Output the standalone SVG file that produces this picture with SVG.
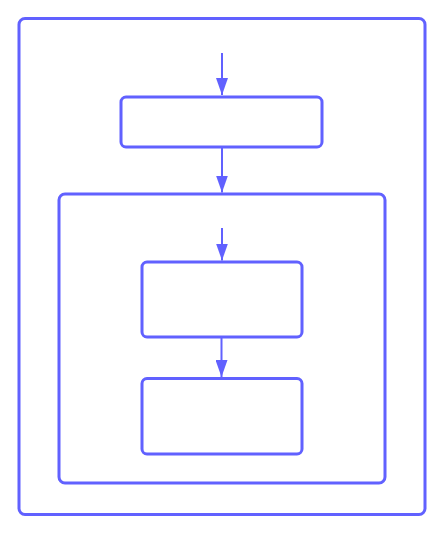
<svg xmlns="http://www.w3.org/2000/svg" width="446" height="534" viewBox="0 0 446 534">
<style>
.b{fill:none;stroke:#6161ff;stroke-width:3}
.c{stroke:#6161ff;stroke-width:2;fill:none}
</style>
<defs>
<marker id="ah" markerWidth="17" markerHeight="12" viewBox="0 0 17 12" refX="17" refY="6" orient="auto" markerUnits="userSpaceOnUse">
<path d="M0,0 L17,6 L0,12 Z" fill="#6161ff"/>
</marker>
</defs>
<rect width="446" height="534" fill="#ffffff"/>
<g id="outer"><rect class="b" x="19" y="18.5" width="406" height="496" rx="6"/></g>
<g id="box1"><rect class="b" x="121" y="97" width="201" height="50" rx="5"/></g>
<g id="inner"><rect class="b" x="59" y="194" width="326" height="289" rx="6"/></g>
<g id="box2"><rect class="b" x="142" y="262" width="160" height="75" rx="5"/></g>
<g id="box3"><rect class="b" x="142" y="378.5" width="160" height="75.5" rx="5"/></g>
<g id="connectors">
<line class="c" x1="222" y1="53" x2="222" y2="95" marker-end="url(#ah)"/>
<line class="c" x1="222" y1="148" x2="222" y2="192.5" marker-end="url(#ah)"/>
<line class="c" x1="222" y1="228" x2="222" y2="260.5" marker-end="url(#ah)"/>
<line class="c" x1="221.5" y1="338" x2="221.5" y2="377" marker-end="url(#ah)"/>
</g>
</svg>
